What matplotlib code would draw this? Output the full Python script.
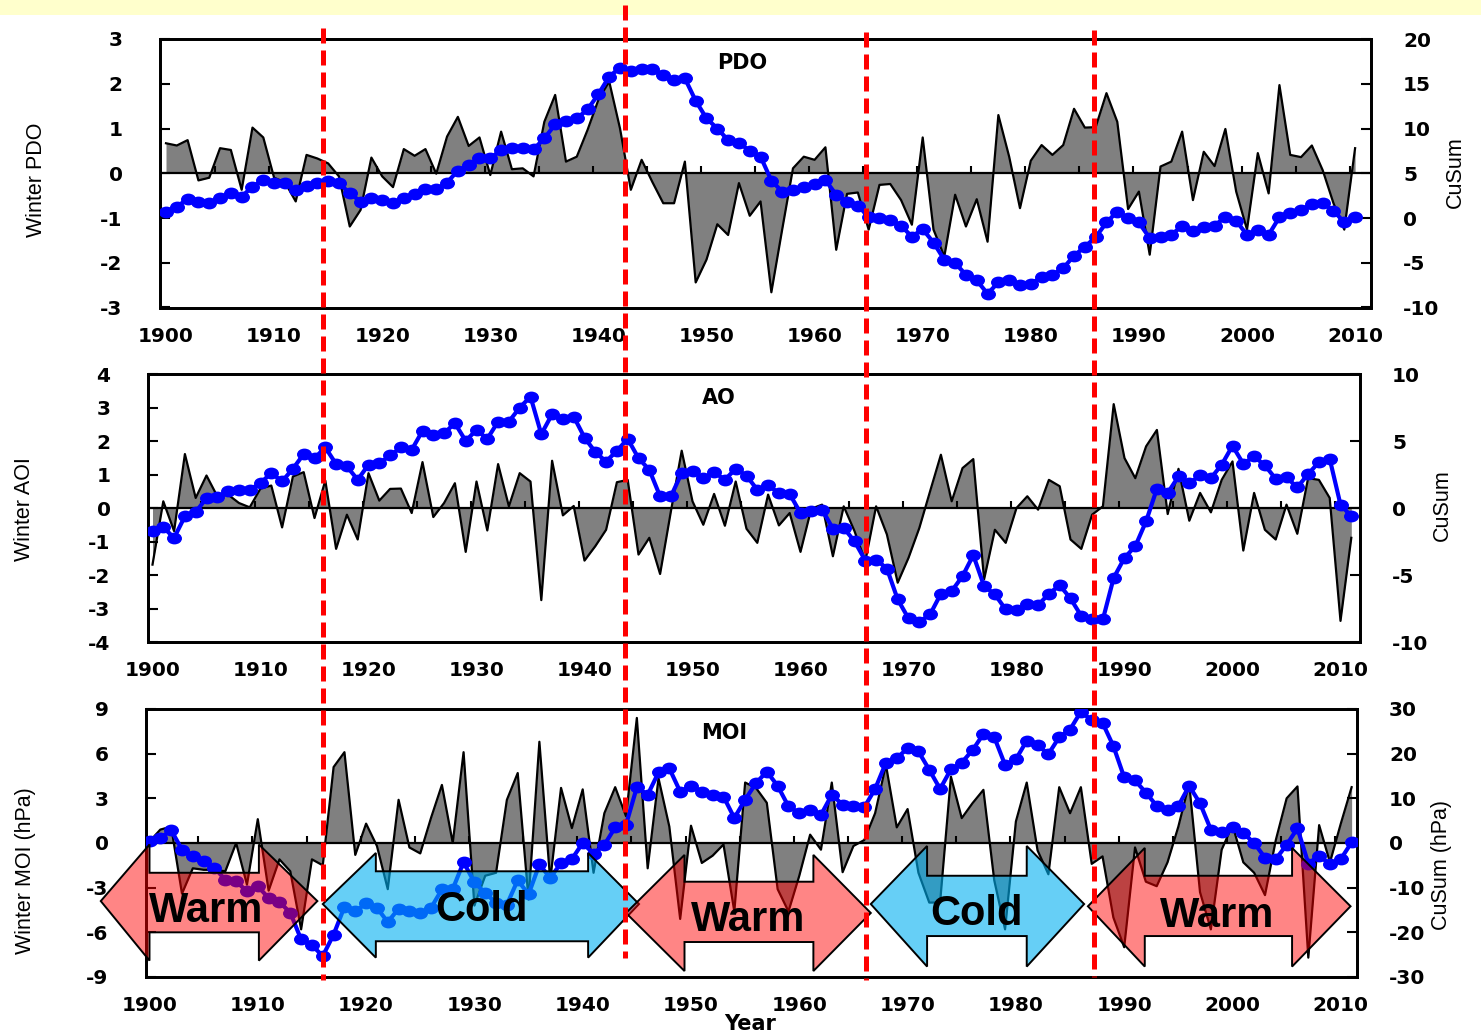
import numpy as np
import matplotlib
matplotlib.use("Agg")
import matplotlib.pyplot as plt
from matplotlib.markers import MarkerStyle
from matplotlib.transforms import Affine2D
from matplotlib.patches import Polygon, Rectangle
from matplotlib.lines import Line2D

# ---------------- data ----------------
start_year = 1900

pdo_index = [
    0.67, 0.62, 0.74, -0.16, -0.10, 0.56, 0.52, -0.37, 1.02, 0.80,
    -0.10, -0.20, -0.63, 0.41, 0.33, 0.22, -0.07, -1.19, -0.82, 0.35,
    -0.07, -0.31, 0.54, 0.39, 0.54, -0.01, 0.82, 1.26, 0.61, 0.80,
    -0.04, 0.93, 0.09, 0.11, -0.07, 1.15, 1.75, 0.26, 0.37, 0.97,
    1.64, 2.05, 1.00, -0.37, 0.30, -0.20, -0.67, -0.67, 0.26, -2.44,
    -1.93, -1.14, -1.38, -0.22, -0.95, -0.63, -2.66, -1.26, 0.11, 0.37,
    0.30, 0.58, -1.71, -0.46, -0.43, -1.26, -0.26, -0.24, -0.60, -1.15,
    0.80, -1.26, -1.86, -0.48, -1.19, -0.58, -1.53, 1.30, 0.37, -0.78,
    0.28, 0.63, 0.41, 0.63, 1.44, 1.02, 1.03, 1.79, 1.15, -0.80,
    -0.41, -1.82, 0.15, 0.26, 0.93, -0.60, 0.48, 0.16, 0.99, -0.41,
    -1.26, 0.45, -0.45, 1.97, 0.41, 0.36, 0.62, 0.07, -0.67, -1.26, 0.56,
]
pdo_cusum = [
    0.72, 1.28, 2.10, 1.84, 1.73, 2.28, 2.84, 2.39, 3.51, 4.25,
    3.88, 3.88, 3.14, 3.58, 3.96, 4.18, 3.88, 2.77, 1.84, 2.21,
    2.02, 1.73, 2.21, 2.66, 3.25, 3.21, 3.96, 5.30, 5.93, 6.67,
    6.67, 7.60, 7.78, 7.78, 7.67, 8.90, 10.46, 10.83, 11.13, 12.13,
    13.84, 15.80, 16.80, 16.45, 16.70, 16.70, 15.96, 15.40, 15.60, 13.10,
    11.13, 10.00, 8.70, 8.42, 7.50, 6.86, 4.18, 2.95, 3.14, 3.50,
    3.80, 4.25, 2.58, 1.84, 1.35, 0.16, 0.00, -0.20, -0.88, -2.07,
    -1.25, -2.74, -4.67, -5.04, -6.34, -6.97, -8.46, -7.20, -6.90, -7.45,
    -7.34, -6.63, -6.34, -5.60, -4.22, -3.20, -2.15, -0.50, 0.72, -0.02,
    -0.50, -2.25, -2.14, -1.88, -0.88, -1.50, -1.03, -0.88, 0.16, -0.32,
    -1.88, -1.32, -1.88, 0.09, 0.54, 0.90, 1.58, 1.65, 0.83, -0.50, 0.09,
]

ao_index = [
    -1.69, 0.20, -0.69, 1.61, 0.30, 0.97, 0.35, 0.40, 0.15, 0.02,
    0.58, 0.67, -0.58, 0.94, 1.07, -0.30, 0.82, -1.22, -0.20, -0.94,
    1.04, 0.22, 0.57, 0.58, -0.15, 1.37, -0.27, 0.15, 0.74, -1.31,
    0.79, -0.67, 1.31, 0.05, 1.04, 0.79, -2.75, 1.41, -0.22, 0.06,
    -1.57, -1.14, -0.65, 0.77, 0.84, -1.39, -0.89, -1.97, -0.10, 1.71,
    0.20, -0.50, 0.42, -0.53, 0.79, -0.62, -1.04, 0.40, -0.52, -0.15,
    -1.31, -0.02, 0.10, -1.44, 0.05, -0.69, -1.59, 0.05, -0.79, -2.23,
    -1.49, -0.60, 0.50, 1.59, 0.20, 1.19, 1.46, -2.13, -0.65, -1.04,
    0.00, 0.35, -0.05, 0.84, 0.65, -0.94, -1.22, -0.20, 0.05, 3.10,
    1.49, 0.89, 1.84, 2.33, -0.18, 1.17, -0.38, 0.45, -0.13, 0.84,
    1.39, -1.27, 0.45, -0.65, -0.94, 0.10, -0.77, 0.89, 0.84, 0.30, -3.37, -0.89,
]
ao_cusum = [
    -1.69, -1.44, -2.23, -0.62, -0.30, 0.74, 0.79, 1.29, 1.36, 1.36,
    1.86, 2.61, 1.99, 2.93, 4.02, 3.72, 4.52, 3.28, 3.10, 2.11,
    3.23, 3.35, 3.92, 4.52, 4.34, 5.76, 5.46, 5.58, 6.33, 5.01,
    5.83, 5.16, 6.45, 6.45, 7.49, 8.31, 5.51, 7.00, 6.65, 6.82,
    5.26, 4.17, 3.47, 4.27, 5.16, 3.72, 2.85, 0.87, 0.87, 2.61,
    2.73, 2.23, 2.68, 2.11, 2.93, 2.41, 1.36, 1.69, 1.12, 1.04,
    -0.37, -0.25, -0.12, -1.54, -1.49, -2.48, -3.92, -3.85, -4.52, -6.82,
    -8.24, -8.49, -7.94, -6.40, -6.20, -5.09, -3.52, -5.83, -6.45, -7.57,
    -7.64, -7.20, -7.25, -6.40, -5.76, -6.75, -8.06, -8.31, -8.31, -5.21,
    -3.72, -2.85, -0.99, 1.44, 1.12, 2.36, 1.86, 2.43, 2.23, 3.23,
    4.64, 3.30, 3.85, 3.18, 2.18, 2.28, 1.54, 2.53, 3.42, 3.67, 0.25, -0.62,
]

moi_index = [
    0.1, 0.9, 1.1, -3.4, -1.7, -1.8, -1.8, -1.9, 0.0, -2.8,
    1.6, -3.2, -1.1, -1.9, -5.8, -1.1, -1.5, 5.1, 6.1, -0.8,
    1.3, -0.2, -3.1, 2.9, -0.3, -0.7, 1.7, 3.9, 0.0, 6.1,
    -4.2, -2.2, -2.0, 2.9, 4.7, -3.8, 6.8, -2.5, 3.7, 1.0,
    3.6, -2.0, 2.0, 3.75, 1.8, 8.4, -1.7, 4.35, 1.1, -5.1,
    1.16, -1.34, -0.85, -0.1, -4.6, 4.06, 3.7, 2.7, -3.1, -4.6,
    -2.2, 0.56, -0.45, 4.06, -1.96, -0.2, 0.2, 2.0, 5.25, 1.05,
    2.28, -2.0, -4.0, -4.0, 4.46, 1.67, 2.68, 3.57, -2.5, -5.8,
    1.45, 4.06, -0.5, -2.1, 3.75, 2.0, 3.75, -1.4, -0.9, -5.0,
    -7.0, -0.3, -2.6, -2.9, -1.3, 1.1, 4.0, -3.3, -5.8, -0.45,
    1.2, -1.3, -2.0, -3.5, 0.2, 3.0, 3.8, -7.7, 1.2, -1.3, 1.3, 3.75,
]
moi_cusum = [
    0.37, 1.1, 2.9, -1.5, -3.0, -4.1, -5.6, -8.2, -8.6, -10.8,
    -9.7, -12.3, -13.2, -15.6, -21.6, -22.9, -25.3, -20.5, -14.3, -15.3,
    -13.5, -14.5, -17.7, -14.7, -15.3, -15.6, -14.5, -10.4, -10.3, -4.3,
    -8.8, -11.2, -13.4, -13.8, -8.3, -11.5, -4.8, -7.8, -4.5, -3.6,
    0.0, -2.4, -0.4, 3.5, 4.1, 12.5, 10.8, 15.8, 16.7, 11.5,
    12.8, 11.5, 10.8, 10.4, 5.6, 9.7, 13.4, 16.0, 12.8, 8.2,
    6.7, 7.4, 6.3, 10.8, 8.6, 8.2, 8.0, 12.1, 18.0, 19.0,
    21.2, 20.5, 16.4, 12.1, 16.5, 18.0, 20.8, 24.4, 23.7, 17.5,
    18.75, 22.9, 21.9, 19.9, 23.7, 25.4, 29.4, 27.5, 26.9, 21.7,
    14.7, 14.0, 11.3, 8.3, 7.3, 8.3, 12.8, 8.9, 3.0, 2.4,
    3.6, 2.2, 0.0, -3.3, -3.6, -0.4, 3.3, -4.6, -2.8, -4.8, -3.6, 0.15,
]

regime_shift_years = [1916.0, 1943.9, 1966.2, 1987.2]
regime_labels = ["Warm", "Cold", "Warm", "Cold", "Warm"]
decade_ticks = list(range(1900, 2011, 10))

# ---------------- layout / style ----------------
W, H = 1481, 1033
fig = plt.figure(figsize=(W / 100, H / 100), dpi=100)
plt.rcParams["font.family"] = ["DejaVu Sans"]

NARROW = ["Liberation Sans Narrow", "Liberation Sans", "DejaVu Sans"]
TICKFONT = dict(fontsize=14.5, fontweight="bold")

fig.add_artist(Rectangle((0, 1 - 15 / H), 1, 15 / H, transform=fig.transFigure,
                         facecolor="#FFFFCC", edgecolor="none", zorder=-5))


def box(l, t, r, b):
    return [l / W, 1 - b / H, (r - l) / W, (b - t) / H]


panels = [
    dict(title="PDO", idx=pdo_index, cus=pdo_cusum, box=(160, 39, 1371, 307.5), x0=166.0, ppy=10.81,
         ylim=(-3, 3), yt=list(range(-3, 4)), ylim2=(-10, 20), yt2=list(range(-10, 21, 5)),
         ylabel="Winter PDO", ylab_xy=(37, 180), ylabel2="CuSum", ylab2_xy=(1455, 172), title_xy=(742, 63)),
    dict(title="AO", idx=ao_index, cus=ao_cusum, box=(148, 374, 1360, 642), x0=152.5, ppy=10.80,
         ylim=(-4, 4), yt=list(range(-4, 5)), ylim2=(-10, 10), yt2=list(range(-10, 11, 5)),
         ylabel="Winter AOI", ylab_xy=(25, 509), ylabel2="CuSum", ylab2_xy=(1442, 505), title_xy=(719, 398)),
    dict(title="MOI", idx=moi_index, cus=moi_cusum, box=(146, 709, 1357, 977), x0=149.5, ppy=10.83,
         ylim=(-9, 9), yt=list(range(-9, 10, 3)), ylim2=(-30, 30), yt2=list(range(-30, 31, 10)),
         ylabel="Winter MOI (hPa)", ylab_xy=(25, 871), ylabel2="CuSum (hPa)", ylab2_xy=(1441, 865), title_xy=(724, 733)),
]

marker = MarkerStyle("o", transform=Affine2D().scale(1.3, 1.0))
axes = []
for p in panels:
    ax = fig.add_axes(box(*p["box"]))
    ax2 = ax.twinx()
    l, t, r, b = p["box"]
    ax.set_xlim(1900 + (l - p["x0"]) / p["ppy"], 1900 + (r - p["x0"]) / p["ppy"])
    years = np.arange(start_year, start_year + len(p["idx"]))
    yrs_c = np.arange(start_year, start_year + len(p["cus"]))
    idx = np.array(p["idx"])
    ax.fill_between(years, idx, 0, color="#808080", linewidth=0, zorder=1)
    ax.plot(years, idx, color="black", lw=1.6, zorder=2)
    ax.axhline(0, color="black", lw=1.6, zorder=3)
    ax.set_ylim(*p["ylim"])
    ax.set_yticks(p["yt"])
    ax.set_yticklabels([str(v) for v in p["yt"]], **TICKFONT)
    span = p["ylim"][1] - p["ylim"][0]
    small = np.arange(1904.5, 2010, 5)
    ax.vlines(small, 0, span * 0.026, color="black", lw=1.5, zorder=3)
    ax.set_xticks(decade_ticks)
    ax.set_xticklabels([str(v) for v in decade_ticks], **TICKFONT)
    ax.tick_params(axis="x", length=0, pad=14)
    ax.tick_params(axis="y", direction="in", length=7.5, width=1.5, pad=27, right=False)
    ax2.set_ylim(*p["ylim2"])
    ax2.set_yticks(p["yt2"])
    ax2.set_yticklabels([str(v) for v in p["yt2"]], **TICKFONT)
    ax2.tick_params(axis="y", direction="in", length=7.5, width=1.5, pad=23)
    ax2.plot(yrs_c, p["cus"], color="#0000FF", lw=3, marker=marker, markersize=7.5,
             markerfacecolor="#0000FF", markeredgecolor="#0000FF", zorder=4)
    for a in (ax, ax2):
        for s in a.spines.values():
            s.set_linewidth(2.0)
    fig.text(p["ylab_xy"][0] / W, 1 - p["ylab_xy"][1] / H, p["ylabel"], rotation=90,
             ha="center", va="center", fontsize=15.5, family=NARROW)
    fig.text(p["ylab2_xy"][0] / W, 1 - p["ylab2_xy"][1] / H, p["ylabel2"], rotation=90,
             ha="center", va="center", fontsize=15.5, family=NARROW)
    fig.text(p["title_xy"][0] / W, 1 - p["title_xy"][1] / H, p["title"],
             ha="center", va="center", fontsize=15, fontweight="bold")
    axes.append((ax, ax2))

fig.text(750 / W, 1 - 1024 / H, "Year", ha="center", va="center", fontsize=15, fontweight="bold")

# ---------------- regime arrows (annotation shapes on MOI panel) ----------------
ax_m, ax_m2 = axes[2]
arrow_geom = [
    # tip_l, back_l, back_r, tip_r, y_c, head_top, shaft_top, shaft_bot, head_bot
    (1895.5, 1900.0, 1910.1, 1915.5, -3.9, -0.1, -2.0, -6.0, -7.9),
    (1916.0, 1920.9, 1940.5, 1945.2, -4.1, -0.67, -1.9, -6.6, -7.7),
    (1944.0, 1949.4, 1961.3, 1966.6, -4.7, -0.8, -2.6, -6.65, -8.6),
    (1966.6, 1971.8, 1981.0, 1986.3, -4.1, -0.2, -2.2, -6.25, -8.3),
    (1986.65, 1991.9, 2005.5, 2010.9, -4.25, -0.33, -2.2, -6.25, -8.3),
]
label_pos = [(1905.2, -4.6), (1930.7, -4.5), (1955.3, -5.2), (1976.4, -4.8), (1998.6, -4.9)]
colors = {"Warm": ((1.0, 0.0, 0.0), 0.48), "Cold": ((0.0, 0.69, 0.94), 0.6)}
for lab, g, (tx, ty) in zip(regime_labels, arrow_geom, label_pos):
    tl, bl, br, tr, yc, ht, st, sb, hb = g
    verts = [(tl, yc), (bl, ht), (bl, st), (br, st), (br, ht), (tr, yc),
             (br, hb), (br, sb), (bl, sb), (bl, hb)]
    col, al = colors[lab]
    poly = Polygon(verts, closed=True, facecolor=col + (al,), edgecolor="black", lw=1.4,
                   transform=ax_m.transData, clip_on=False, zorder=6)
    ax_m2.add_patch(poly)
    ax_m2.text(tx, ty, lab, transform=ax_m.transData, ha="center", va="center",
               fontsize=30, fontweight="bold", family=["Liberation Sans", "DejaVu Sans"], zorder=7)

# ---------------- regime-shift dashed lines across all panels ----------------
tops = [28, 5, 32, 30]
bottoms = [980, 958, 980, 977]
for yr, t, b in zip(regime_shift_years, tops, bottoms):
    xd = ax_m.transData.transform((yr, 0))[0]
    xf = xd / fig.bbox.width
    fig.add_artist(Line2D([xf, xf], [1 - t / H, 1 - b / H], transform=fig.transFigure,
                          color="#FF0000", lw=3.6, dashes=[3, 1.4], zorder=10))

fig.savefig("out.png", dpi=100)
